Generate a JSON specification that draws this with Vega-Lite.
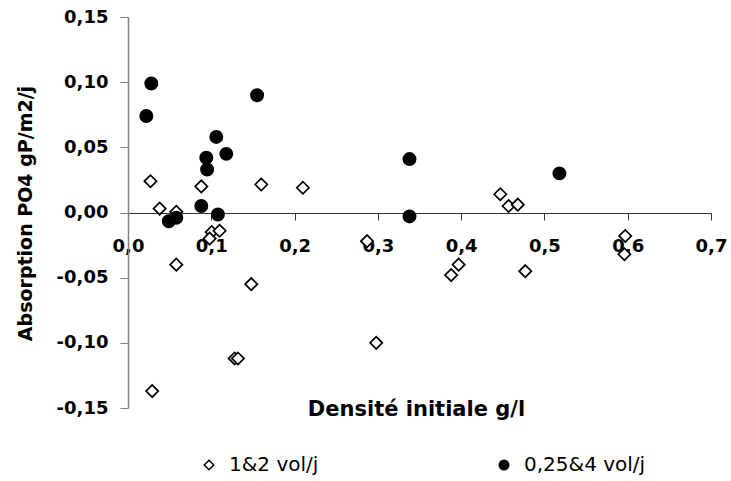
{
  "$schema": "https://vega.github.io/schema/vega-lite/v6.json",
  "width": 583,
  "height": 391,
  "autosize": {"type": "none"},
  "padding": {"left": 128, "top": 17, "right": 20, "bottom": 73},
  "background": "white",
  "config": {
    "font": "DejaVu Sans",
    "view": {"stroke": null},
    "locale": {"number": {"decimal": ",", "thousands": " ", "grouping": [3], "currency": ["", " €"], "minus": "-"}}
  },
  "data": {
    "values": [
      {"densite": 0.027, "absorption": 0.024, "serie": "1&2 vol/j"},
      {"densite": 0.038, "absorption": 0.003, "serie": "1&2 vol/j"},
      {"densite": 0.058, "absorption": 0.0005, "serie": "1&2 vol/j"},
      {"densite": 0.088, "absorption": 0.020, "serie": "1&2 vol/j"},
      {"densite": 0.160, "absorption": 0.0215, "serie": "1&2 vol/j"},
      {"densite": 0.210, "absorption": 0.019, "serie": "1&2 vol/j"},
      {"densite": 0.1005, "absorption": -0.015, "serie": "1&2 vol/j"},
      {"densite": 0.110, "absorption": -0.014, "serie": "1&2 vol/j"},
      {"densite": 0.098, "absorption": -0.020, "serie": "1&2 vol/j"},
      {"densite": 0.287, "absorption": -0.022, "serie": "1&2 vol/j"},
      {"densite": 0.058, "absorption": -0.040, "serie": "1&2 vol/j"},
      {"densite": 0.148, "absorption": -0.055, "serie": "1&2 vol/j"},
      {"densite": 0.128, "absorption": -0.112, "serie": "1&2 vol/j"},
      {"densite": 0.132, "absorption": -0.112, "serie": "1&2 vol/j"},
      {"densite": 0.298, "absorption": -0.100, "serie": "1&2 vol/j"},
      {"densite": 0.029, "absorption": -0.137, "serie": "1&2 vol/j"},
      {"densite": 0.447, "absorption": 0.014, "serie": "1&2 vol/j"},
      {"densite": 0.457, "absorption": 0.005, "serie": "1&2 vol/j"},
      {"densite": 0.468, "absorption": 0.006, "serie": "1&2 vol/j"},
      {"densite": 0.597, "absorption": -0.018, "serie": "1&2 vol/j"},
      {"densite": 0.596, "absorption": -0.032, "serie": "1&2 vol/j"},
      {"densite": 0.397, "absorption": -0.040, "serie": "1&2 vol/j"},
      {"densite": 0.388, "absorption": -0.048, "serie": "1&2 vol/j"},
      {"densite": 0.477, "absorption": -0.045, "serie": "1&2 vol/j"},
      {"densite": 0.028, "absorption": 0.099, "serie": "0,25&4 vol/j"},
      {"densite": 0.022, "absorption": 0.074, "serie": "0,25&4 vol/j"},
      {"densite": 0.155, "absorption": 0.090, "serie": "0,25&4 vol/j"},
      {"densite": 0.106, "absorption": 0.058, "serie": "0,25&4 vol/j"},
      {"densite": 0.094, "absorption": 0.042, "serie": "0,25&4 vol/j"},
      {"densite": 0.095, "absorption": 0.033, "serie": "0,25&4 vol/j"},
      {"densite": 0.118, "absorption": 0.045, "serie": "0,25&4 vol/j"},
      {"densite": 0.088, "absorption": 0.005, "serie": "0,25&4 vol/j"},
      {"densite": 0.108, "absorption": -0.0015, "serie": "0,25&4 vol/j"},
      {"densite": 0.049, "absorption": -0.0067, "serie": "0,25&4 vol/j"},
      {"densite": 0.058, "absorption": -0.004, "serie": "0,25&4 vol/j"},
      {"densite": 0.338, "absorption": 0.041, "serie": "0,25&4 vol/j"},
      {"densite": 0.338, "absorption": -0.003, "serie": "0,25&4 vol/j"},
      {"densite": 0.518, "absorption": 0.030, "serie": "0,25&4 vol/j"}
    ]
  },
  "mark": {"type": "point", "filled": true, "stroke": "black", "strokeWidth": 1.7, "size": 150, "opacity": 1},
  "encoding": {
    "x": {
      "field": "densite", "type": "quantitative",
      "scale": {"domain": [0, 0.7], "nice": false, "zero": false},
      "axis": {
        "title": "Densité initiale g/l",
        "values": [0, 0.1, 0.2, 0.3, 0.4, 0.5, 0.6, 0.7],
        "format": ".1f",
        "offset": -195,
        "grid": false,
        "domainColor": "#333333", "domainWidth": 1,
        "tickColor": "#333333", "tickWidth": 1, "tickSize": 7,
        "labelFont": "DejaVu Sans", "labelFontSize": 18, "labelFontWeight": "bold", "labelColor": "black",
        "labelBaseline": "alphabetic", "labelPadding": 31, "labelFlush": false, "labelOverlap": false,
        "titleFont": "DejaVu Sans", "titleFontSize": 21, "titleFontWeight": "bold", "titleColor": "black",
        "titleX": 288, "titleY": 202, "titleAlign": "center", "titleBaseline": "alphabetic"
      }
    },
    "y": {
      "field": "absorption", "type": "quantitative",
      "scale": {"domain": [-0.15, 0.15], "nice": false, "zero": false},
      "axis": {
        "title": "Absorption PO4 gP/m2/j",
        "values": [-0.15, -0.1, -0.05, 0, 0.05, 0.1, 0.15],
        "format": ".2f",
        "grid": false,
        "domainColor": "#808080", "domainWidth": 1.5,
        "tickColor": "#808080", "tickWidth": 1, "tickSize": 8,
        "labelFont": "DejaVu Sans", "labelFontSize": 18, "labelFontWeight": "bold", "labelColor": "black",
        "labelPadding": 12, "labelFlush": false, "labelOverlap": false,
        "titleFont": "DejaVu Sans", "titleFontSize": 19, "titleFontWeight": "bold", "titleColor": "black",
        "titleX": -103, "titleY": 196, "titleAngle": -90, "titleAlign": "center", "titleBaseline": "middle"
      }
    },
    "shape": {
      "field": "serie", "type": "nominal",
      "scale": {"domain": ["1&2 vol/j", "0,25&4 vol/j"], "range": ["diamond", "circle"]},
      "legend": {
        "title": null,
        "orient": "none",
        "legendX": 71,
        "legendY": 438,
        "direction": "horizontal",
        "columns": 2,
        "columnPadding": 175,
        "padding": 0,
        "symbolSize": 90,
        "labelFont": "DejaVu Sans",
        "labelFontSize": 20,
        "labelColor": "black",
        "labelOffset": 10,
        "labelLimit": 300,
        "encode": {"symbols": {"update": {"stroke": {"value": "black"}, "strokeWidth": {"value": 1.5}}}}
      }
    },
    "fill": {
      "field": "serie", "type": "nominal",
      "scale": {"domain": ["1&2 vol/j", "0,25&4 vol/j"], "range": ["white", "black"]},
      "legend": {
        "title": null,
        "orient": "none",
        "legendX": 71,
        "legendY": 438,
        "direction": "horizontal",
        "columns": 2,
        "columnPadding": 175,
        "padding": 0,
        "symbolSize": 90,
        "labelFont": "DejaVu Sans",
        "labelFontSize": 20,
        "labelColor": "black",
        "labelOffset": 10,
        "labelLimit": 300,
        "encode": {"symbols": {"update": {"stroke": {"value": "black"}, "strokeWidth": {"value": 1.5}}}}
      }
    }
  }
}
